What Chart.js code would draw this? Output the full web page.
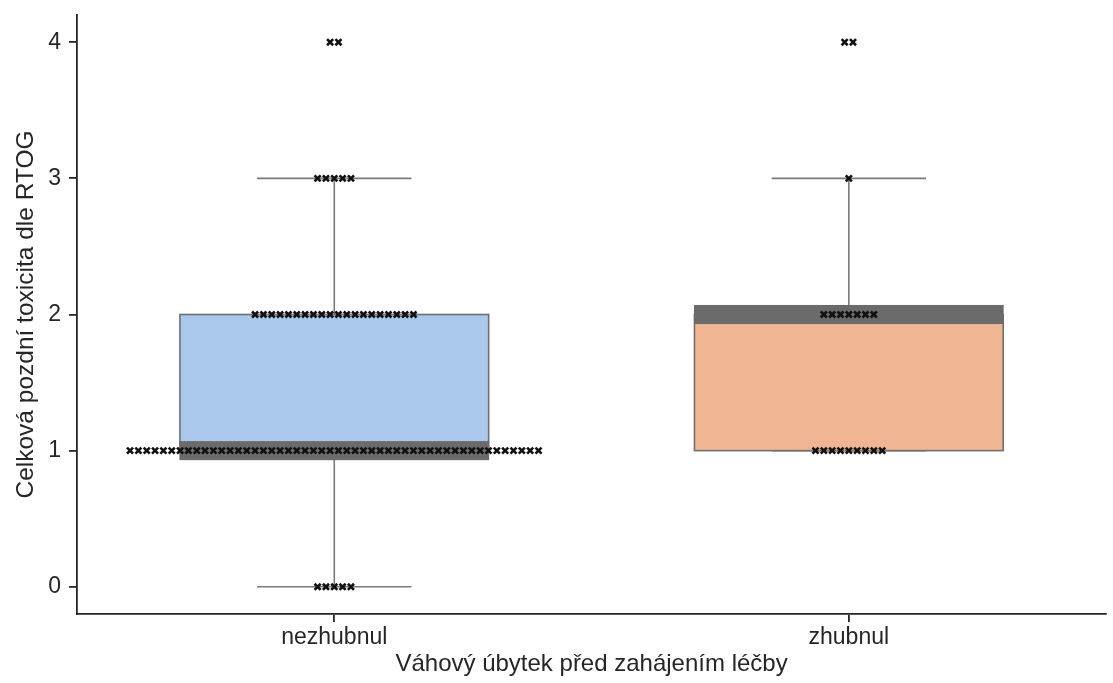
<!DOCTYPE html>
<html>
<head>
<meta charset="utf-8">
<script src="https://cdn.jsdelivr.net/npm/chart.js@4.4.1/dist/chart.umd.min.js"></script>
<style>
html,body{margin:0;padding:0;background:#fff;}
#wrap{width:1113px;height:683px;}
</style>
</head>
<body>
<div id="wrap"><canvas id="c" width="1113" height="683"></canvas></div>
<script>
const categories = ['nezhubnul', 'zhubnul'];
const levels = [0, 1, 2, 3, 4];
const countsNezhubnul = [5, 50, 20, 5, 2];
const countsZhubnul = [0, 9, 7, 1, 2];
const whiskerLow = [0, 1];
const q1 = [1, 1];
const median = [1, 2];
const q3 = [2, 2];
const whiskerHigh = [3, 3];
const yTicks = [0, 1, 2, 3, 4];
const boxColors = ['#a9c8ec', '#f0b593'];

const SPACING = 0.0162;
function swarm(counts, ci) {
  const pts = [];
  counts.forEach((n, li) => {
    for (let k = 0; k < n; k++) {
      pts.push({x: ci + (k - (n - 1) / 2) * SPACING, y: levels[li]});
    }
  });
  return pts;
}

const boxPlugin = {
  id: 'boxes',
  beforeDatasetsDraw(chart) {
    const ctx = chart.ctx, xs = chart.scales.x, ys = chart.scales.y;
    ctx.save();
    categories.forEach((c, i) => {
      const xl = xs.getPixelForValue(i - 0.3), xr = xs.getPixelForValue(i + 0.3);
      const cl = xs.getPixelForValue(i - 0.15), cr = xs.getPixelForValue(i + 0.15);
      const xc = xs.getPixelForValue(i);
      const yq1 = ys.getPixelForValue(q1[i]), yq3 = ys.getPixelForValue(q3[i]);
      const ylo = ys.getPixelForValue(whiskerLow[i]), yhi = ys.getPixelForValue(whiskerHigh[i]);
      ctx.lineWidth = 1.6;
      ctx.strokeStyle = '#7a7a7a';
      ctx.beginPath();
      ctx.moveTo(xc, yq1); ctx.lineTo(xc, ylo);
      ctx.moveTo(xc, yq3); ctx.lineTo(xc, yhi);
      ctx.moveTo(cl, ylo); ctx.lineTo(cr, ylo);
      ctx.moveTo(cl, yhi); ctx.lineTo(cr, yhi);
      ctx.stroke();
      ctx.fillStyle = boxColors[i];
      ctx.fillRect(xl, yq3, xr - xl, yq1 - yq3);
      ctx.strokeStyle = '#707070';
      ctx.strokeRect(xl, yq3, xr - xl, yq1 - yq3);
      const mt = ys.getPixelForValue(median[i] + 0.07), mb = ys.getPixelForValue(median[i] - 0.07);
      ctx.fillStyle = '#6b6b6b';
      ctx.fillRect(xl - 0.5, mt, xr - xl + 1, mb - mt);
    });
    ctx.restore();
  }
};

const FONT = 'Liberation Sans, Arial, sans-serif';
new Chart(document.getElementById('c'), {
  type: 'scatter',
  data: {
    datasets: [
      {data: swarm(countsNezhubnul, 0)},
      {data: swarm(countsZhubnul, 1)}
    ].map(d => Object.assign(d, {
      pointStyle: 'crossRot', pointRadius: 4.3, pointBorderWidth: 2.6,
      borderColor: '#111', backgroundColor: '#111', pointHoverRadius: 4, clip: false
    }))
  },
  options: {
    responsive: false,
    animation: false,
    events: [],
    layout: {padding: {top: 15, right: 0, left: 12, bottom: 0}},
    plugins: {legend: {display: false}, tooltip: {enabled: false}},
    scales: {
      x: {
        type: 'linear', min: -0.5, max: 1.5,
        afterBuildTicks(s) { s.ticks = categories.map((c, i) => ({value: i})); },
        afterFit(s) { s.height = 69; s.paddingLeft = 0; s.paddingRight = 0; },
        ticks: {
          callback: v => categories[v], color: '#262626', padding: 2,
          font: {family: FONT, size: 23}, maxRotation: 0
        },
        grid: {drawOnChartArea: false, drawTicks: true, tickLength: 8, color: '#262626', lineWidth: 1.8},
        border: {display: true, color: '#262626', width: 1.8},
        title: {display: true, text: 'Váhový úbytek před zahájením léčby', color: '#262626',
          font: {family: FONT, size: 24}, padding: {top: 0, bottom: 4}}
      },
      y: {
        type: 'linear', min: -0.2, max: 4.2,
        afterBuildTicks(s) { s.ticks = yTicks.map(v => ({value: v})); },
        afterFit(s) { s.width = 65; s.paddingTop = 0; s.paddingBottom = 0; },
        ticks: {color: '#262626', padding: 8, font: {family: FONT, size: 23}},
        grid: {drawOnChartArea: false, drawTicks: true, tickLength: 8, color: '#262626', lineWidth: 1.8},
        border: {display: true, color: '#262626', width: 1.8},
        title: {display: true, text: 'Celková pozdní toxicita dle RTOG', color: '#262626',
          font: {family: FONT, size: 24.5}, padding: {top: 0, bottom: 0}}
      }
    }
  },
  plugins: [boxPlugin]
});
</script>
</body>
</html>
